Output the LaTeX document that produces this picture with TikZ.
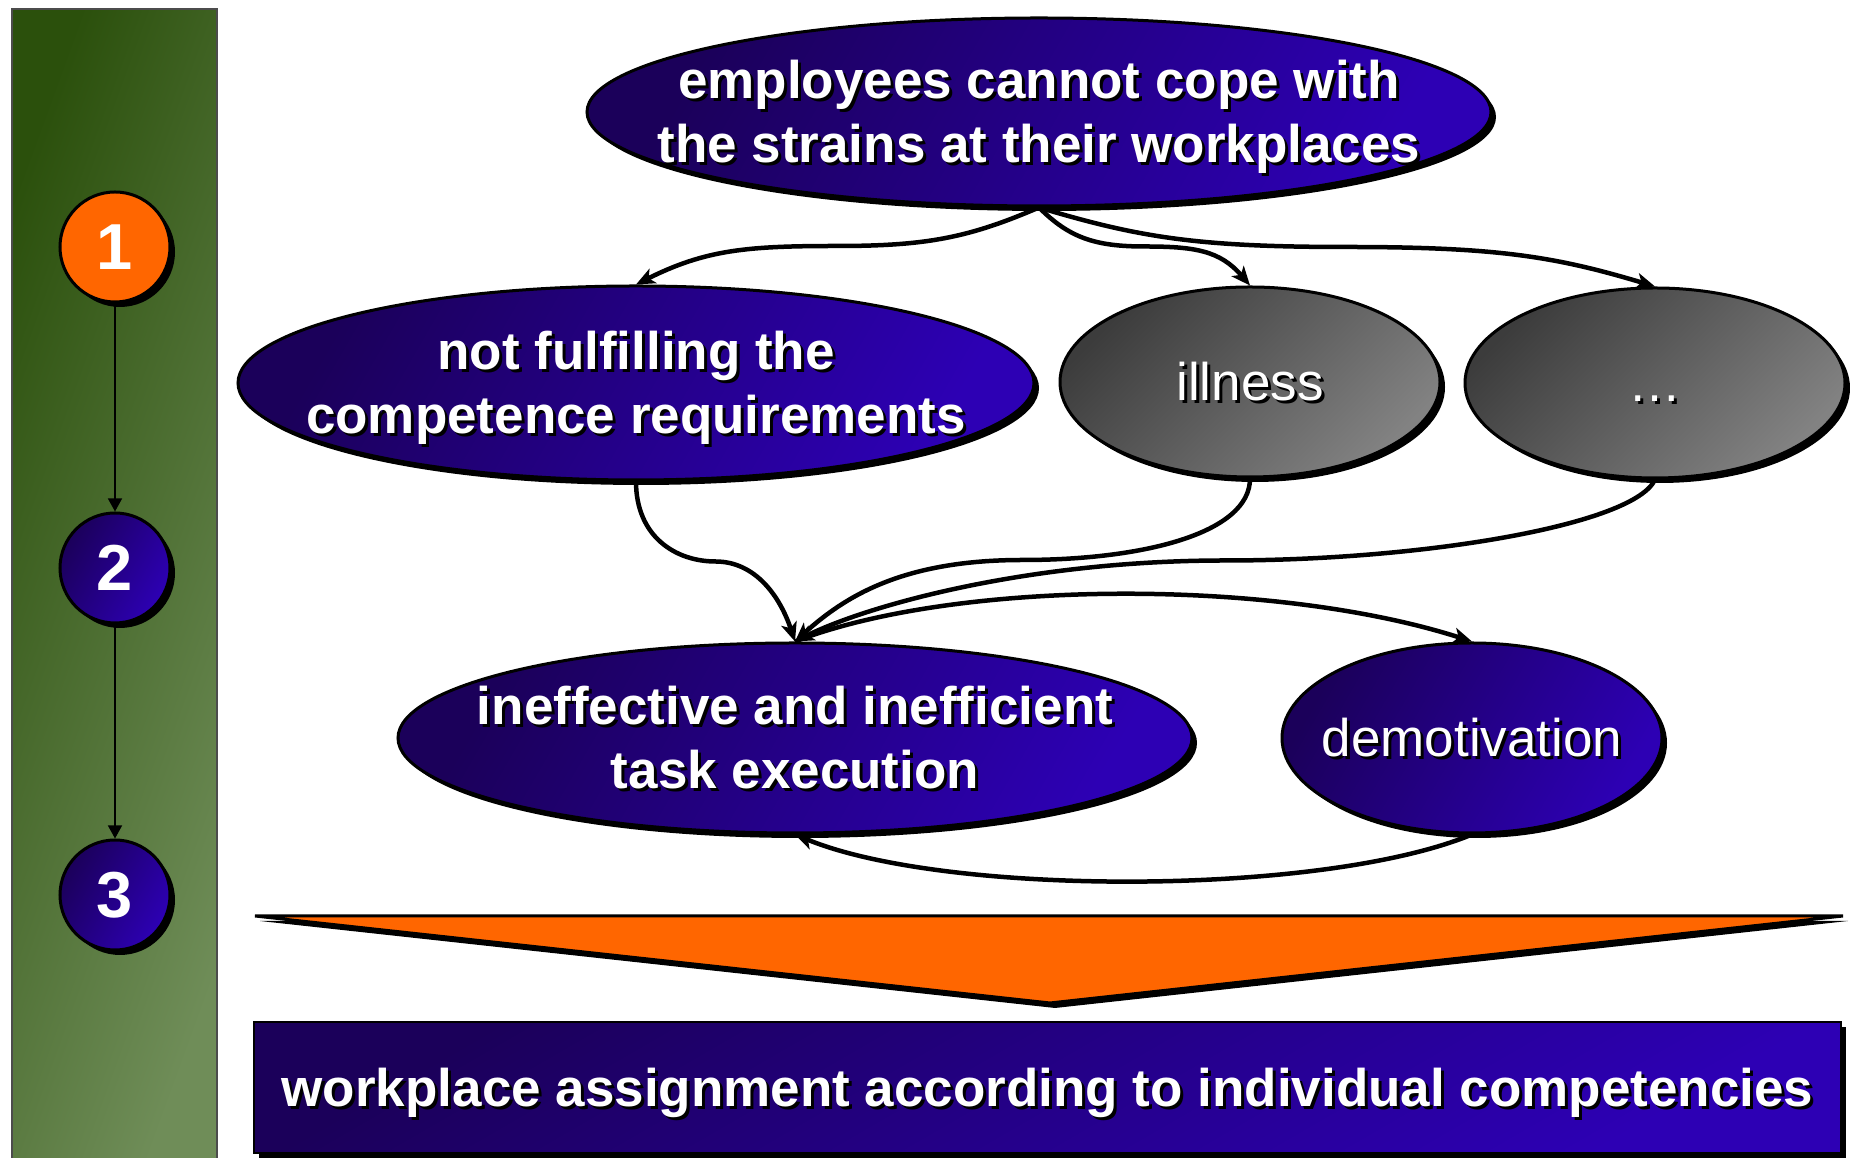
\documentclass[tikz,border=0pt]{standalone}
\usepackage{fontspec}
\setmainfont{Liberation Sans}
\usetikzlibrary{arrows.meta,shadows,calc,shapes.geometric}
\definecolor{navyA}{HTML}{1B005A}
\definecolor{navyB}{HTML}{2D00B4}
\definecolor{greyA}{HTML}{3C3C3C}
\definecolor{greyB}{HTML}{828282}
\definecolor{barA}{HTML}{2B500C}
\definecolor{barB}{HTML}{6F8D58}
\definecolor{orng}{HTML}{FF6600}
\newcommand\shd[1]{\strut\raisebox{-6pt}[0pt][0pt]{\makebox[0pt][l]{\kern3pt\raisebox{-3pt}{\color{black}#1}}#1}}
\begin{document}
\begin{tikzpicture}[x=1pt,y=1pt,
	shad/.style={drop shadow={shadow xshift=5pt,shadow yshift=-5pt,opacity=1,fill=black}},
	navyfill/.style={top color=navyA,bottom color=navyB,shading angle=60},
	greyfill/.style={top color=greyA,bottom color=greyB,shading angle=45},
	bigfont/.style={font=\fontsize{53}{64}\selectfont\bfseries},
	plainfont/.style={font=\fontsize{53}{64}\selectfont},
	blob/.style={ellipse,draw,line width=3pt,shad,inner xsep=-80pt,inner ysep=-40pt,text=white,align=center,bigfont},
	stepno/.style={circle,draw,line width=3pt,shad,minimum size=110pt,inner sep=0pt,text=white,font=\fontsize{65}{65}\selectfont\bfseries},
	conn/.style={line width=4.5pt,-{Stealth[length=19pt,width=16pt,inset=5pt]}}]
	\useasboundingbox(0,0)rectangle(1850,1158);
	\shade[left color=barA,right color=barB,shading angle=70](12,-5)rectangle(217,1149);
	\draw[gray!60!black,line width=1.5pt](12,-5)rectangle(217,1149);
	\node[stepno,fill=orng](s1)at(115,911){1};
	\node[stepno,navyfill](s2)at(115,590){2};
	\node[stepno,navyfill](s3)at(115,263){3};
	\draw[-{Triangle[length=13pt,width=14pt]},line width=1.5pt](s1)--(s2);
	\draw[-{Triangle[length=13pt,width=14pt]},line width=1.5pt](s2)--(s3);
	\node[blob,navyfill,minimum width=904pt,minimum height=188pt](cope)at(1039,1046){\shd{employees cannot cope with}\\\shd{the strains at their workplaces}};
	\node[blob,navyfill,minimum width=796pt,minimum height=194pt](fulfil)at(636,775){\shd{not fulfilling the}\\\shd{competence requirements}};
	\node[blob,greyfill,plainfont,minimum width=380pt,minimum height=190pt](ill)at(1250,776){\shd{illness}};
	\node[blob,greyfill,plainfont,minimum width=380pt,minimum height=190pt](more)at(1655,775){\shd{…}};
	\node[blob,navyfill,minimum width=794pt,minimum height=190pt](ineff)at(795,420){\shd{ineffective and inefficient}\\\shd{task execution}};
	\node[blob,navyfill,plainfont,minimum width=380pt,minimum height=190pt](demot)at(1472,420){\shd{demotivation}};
	\draw[conn](cope.south)..controls+(-70,-30)and+(90,0)..($(cope.south)!.5!(fulfil.north)$)..controls+(-90,0)and+(70,35)..(fulfil.north);
	\draw[conn](cope.south)..controls+(30,-30)and+(-50,0)..($(cope.south)!.5!(ill.north)$)..controls+(50,0)and+(-30,35)..(ill.north);
	\draw[conn](cope.south)..controls+(100,-30)and+(-150,0)..($(cope.south)!.5!(more.north)$)..controls+(150,0)and+(-100,30)..(more.north);
	\draw[conn](fulfil.south)..controls+(0,-55)and+(-40,0)..($(fulfil.south)!.5!(ineff.north)$)..controls+(40,0)and+(-15,45)..(ineff.north);
	\draw[conn](ill.south)..controls+(0,-55)and+(120,0)..($(ill.south)!.5!(ineff.north)$)..controls+(-120,0)and+(50,45)..(ineff.north);
	\draw[conn](more.south)..controls+(-20,-45)and+(200,0)..($(more.south)!.5!(ineff.north)$)..controls+(-200,0)and+(70,35)..(ineff.north);
	\draw[conn](ineff.north)..controls+(160,62)and+(-200,64)..(demot.north);
	\draw[conn](demot.south)..controls+(-150,-62)and+(150,-62)..(ineff.south);
	\filldraw[fill=orng,line width=3pt,shad](255,242)--(1843,242)--(1050,155)--cycle;
	\node[rectangle,draw,line width=2pt,shad,top color=navyA,bottom color=navyB,shading angle=30,minimum width=1587pt,minimum height=131pt,inner sep=0pt,text=white,bigfont](assign)at(1047.5,70.5){\shd{workplace assignment according to individual competencies}};
\end{tikzpicture}
\end{document}
